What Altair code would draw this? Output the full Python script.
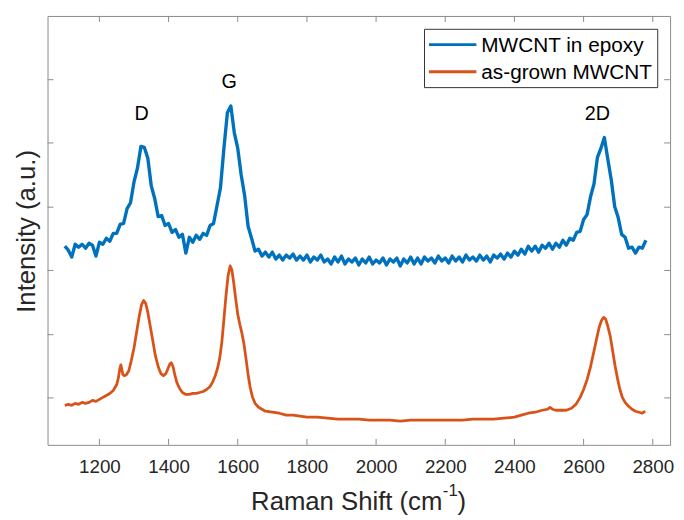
import altair as alt
import pandas as pd

# ---------------- data ----------------
# Raman shift grid of the "MWCNT in epoxy" spectrum, cm^-1 (sampled every 10)
epoxy_shift = list(range(1100, 2790, 10))
epoxy_int = [
    201, 197, 190, 203, 200, 203, 199, 204, 202, 191,
    205, 203, 209, 206, 214, 214, 223, 224, 239, 245,
    266, 280, 302, 301, 290, 262, 249, 231, 232, 222,
    224, 215, 218, 210, 213, 194, 210, 205, 212, 208,
    214, 212, 222, 224, 242, 260, 300, 336, 343, 316,
    300, 273, 252, 221, 209, 196, 198, 191, 195, 190,
    195, 188, 192, 187, 192, 189, 193, 187, 191, 187,
    192, 185, 190, 187, 192, 185, 188, 183, 190, 185,
    191, 183, 188, 185, 189, 182, 188, 184, 190, 183,
    187, 184, 189, 182, 188, 185, 189, 181, 188, 184,
    190, 183, 189, 183, 190, 186, 189, 184, 191, 186,
    189, 184, 191, 186, 190, 185, 192, 187, 190, 186,
    192, 187, 191, 185, 192, 189, 193, 188, 194, 190,
    196, 192, 198, 193, 201, 196, 201, 195, 202, 199,
    204, 198, 204, 200, 207, 202, 209, 207, 215, 216,
    228, 233, 251, 264, 291, 300, 311, 289, 268, 241,
    230, 213, 210, 199, 200, 194, 200, 199, 207,
]

grown_shift = [
    1100, 1110, 1120, 1130, 1140, 1150, 1160, 1170, 1180, 1190,
    1200, 1210, 1220, 1230, 1240, 1250, 1255, 1259, 1262, 1265,
    1268, 1272, 1278, 1285, 1292, 1300, 1308, 1315, 1322, 1328,
    1334, 1340, 1347, 1355, 1362, 1370, 1378, 1385, 1392, 1398,
    1404, 1408, 1413, 1418, 1424, 1432, 1440, 1450, 1460, 1470,
    1480, 1490, 1500, 1510, 1520, 1528, 1535, 1542, 1548, 1554,
    1560, 1566, 1572, 1578, 1583, 1588, 1594, 1600, 1606, 1612,
    1618, 1624, 1630, 1636, 1642, 1650, 1660, 1670, 1680, 1700,
    1720, 1740, 1760, 1780, 1800, 1830, 1860, 1890, 1920, 1950,
    1980, 2010, 2040, 2070, 2100, 2130, 2160, 2190, 2220, 2250,
    2280, 2310, 2340, 2370, 2400, 2420, 2440, 2460, 2480, 2495,
    2503, 2510, 2520, 2535, 2550, 2565, 2578, 2590, 2600, 2610,
    2620, 2630, 2638, 2645, 2652, 2658, 2664, 2670, 2677, 2684,
    2691, 2698, 2705, 2712, 2720, 2730, 2740, 2750, 2760, 2770,
    2778,
]
grown_int = [
    40, 41, 40, 42, 41, 43, 42, 43, 45, 44,
    46, 48, 50, 52, 55, 61, 68, 77, 81, 76,
    71, 70, 71, 75, 85, 98, 115, 130, 142, 146,
    143, 134, 120, 104, 90, 79, 72, 70, 72, 77,
    82, 83, 79, 71, 63, 57, 53, 51, 51, 52,
    52, 53, 54, 56, 59, 64, 70, 78, 88, 104,
    127, 151, 171, 181, 177, 165, 148, 132, 122, 113,
    102, 87, 71, 58, 49, 42, 38, 36, 34, 33,
    32, 30, 30, 29, 28, 28, 27, 26, 26, 26,
    25, 25, 25, 24, 25, 25, 25, 25, 25, 25,
    26, 26, 26, 27, 28, 30, 32, 33, 35, 36,
    38, 36, 35, 35, 35, 37, 41, 48, 56, 66,
    79, 95, 108, 119, 126, 129, 127, 120, 110, 95,
    80, 67, 56, 48, 43, 39, 36, 34, 33, 32,
    34,
]

series_names = ["MWCNT in epoxy", "as-grown MWCNT"]
series_colors = ["#0072BD", "#D95319"]

peak_labels = ["D", "G", "2D"]
peak_shift = [1322, 1575, 2640]
peak_int = [329, 361.5, 329]

x_ticks = [1200, 1400, 1600, 1800, 2000, 2200, 2400, 2600, 2800]
y_ticks = [47.5, 111.5, 176.5, 240.5, 305.5, 369.5]

# ---------------- styling ----------------
W, H = 630, 434
FONT = "Liberation Sans"
AXIS_GRAY = "#8a8a8a"
TEXT_DARK = "#262626"
TICK_LEN = 6

df = pd.concat([
    pd.DataFrame({"shift": epoxy_shift, "intensity": epoxy_int, "series": series_names[0]}),
    pd.DataFrame({"shift": grown_shift, "intensity": grown_int, "series": series_names[1]}),
])
peaks = pd.DataFrame({"label": peak_labels, "shift": peak_shift, "intensity": peak_int})
xt = pd.DataFrame({"t": x_ticks})
yt = pd.DataFrame({"t": y_ticks})
one = pd.DataFrame({"k": [0]})

xs = alt.Scale(domain=[1050, 2850], nice=False, zero=False)
ys = alt.Scale(domain=[0, 434], nice=False, zero=False)
x_axis = alt.Axis(values=x_ticks, title=None, grid=False, domain=False, ticks=True,
                  tickSize=0, labelFontSize=19, labelColor=TEXT_DARK, labelFont=FONT,
                  labelPadding=13, labelFlush=False, format="d")

lines = alt.Chart(df).mark_line(strokeJoin="round").encode(
    x=alt.X("shift:Q", scale=xs, axis=x_axis),
    y=alt.Y("intensity:Q", scale=ys, axis=None),
    color=alt.Color("series:N", scale=alt.Scale(domain=series_names, range=series_colors),
                    legend=None),
    strokeWidth=alt.StrokeWidth("series:N",
                                scale=alt.Scale(domain=series_names, range=[3.4, 2.8]),
                                legend=None),
)

labels = alt.Chart(peaks).mark_text(fontSize=20, font=FONT, color="black",
                                     align="center", baseline="alphabetic").encode(
    x=alt.X("shift:Q", scale=xs, axis=x_axis),
    y=alt.Y("intensity:Q", scale=ys, axis=None),
    text="label:N",
)

tick_bottom = alt.Chart(xt).mark_rule(color=AXIS_GRAY, strokeWidth=1).encode(
    x=alt.X("t:Q", scale=xs, axis=x_axis), y=alt.value(H), y2=alt.value(H - TICK_LEN))
tick_top = alt.Chart(xt).mark_rule(color=AXIS_GRAY, strokeWidth=1).encode(
    x=alt.X("t:Q", scale=xs, axis=x_axis), y=alt.value(0), y2=alt.value(TICK_LEN))
tick_left = alt.Chart(yt).mark_rule(color=AXIS_GRAY, strokeWidth=1).encode(
    y=alt.Y("t:Q", scale=ys, axis=None), x=alt.value(0), x2=alt.value(TICK_LEN))
tick_right = alt.Chart(yt).mark_rule(color=AXIS_GRAY, strokeWidth=1).encode(
    y=alt.Y("t:Q", scale=ys, axis=None), x=alt.value(W), x2=alt.value(W - TICK_LEN))

# axis titles (x title with a superscript)
xt_main = alt.Chart(one).mark_text(fontSize=26, font=FONT, color=TEXT_DARK, align="left",
                                    baseline="alphabetic").encode(
    x=alt.value(206), y=alt.value(500), text=alt.value("Raman Shift (cm"))
xt_sup = alt.Chart(one).mark_text(fontSize=17, font=FONT, color=TEXT_DARK, align="left",
                                   baseline="alphabetic").encode(
    x=alt.value(400), y=alt.value(486), text=alt.value("-1"))
xt_close = alt.Chart(one).mark_text(fontSize=26, font=FONT, color=TEXT_DARK, align="left",
                                     baseline="alphabetic").encode(
    x=alt.value(415), y=alt.value(500), text=alt.value(")"))
yt_title = alt.Chart(one).mark_text(fontSize=26, font=FONT, color=TEXT_DARK, align="center",
                                     baseline="alphabetic", angle=270).encode(
    x=alt.value(-12.5), y=alt.value(218), text=alt.value("Intensity (a.u.)"))

# legend box
leg_box = alt.Chart(one).mark_rect(fill="white", stroke="#333333", strokeWidth=1).encode(
    x=alt.value(381.5), x2=alt.value(617.5), y=alt.value(13.5), y2=alt.value(72.5))
leg_l1 = alt.Chart(one).mark_rule(color=series_colors[0], strokeWidth=3).encode(
    x=alt.value(386), x2=alt.value(434), y=alt.value(29))
leg_l2 = alt.Chart(one).mark_rule(color=series_colors[1], strokeWidth=3).encode(
    x=alt.value(386), x2=alt.value(434), y=alt.value(56.5))
leg_t1 = alt.Chart(one).mark_text(fontSize=21, font=FONT, color="black", align="left",
                                   baseline="middle").encode(
    x=alt.value(439), y=alt.value(30), text=alt.value(series_names[0]))
leg_t2 = alt.Chart(one).mark_text(fontSize=21, font=FONT, color="black", align="left",
                                   baseline="middle").encode(
    x=alt.value(439), y=alt.value(57.5), text=alt.value(series_names[1]))

chart = alt.layer(
    lines, labels, tick_bottom, tick_top, tick_left, tick_right,
    xt_main, xt_sup, xt_close, yt_title,
    leg_box, leg_l1, leg_l2, leg_t1, leg_t2,
).properties(
    width=W, height=H,
    padding={"left": 40, "top": 5, "right": 6, "bottom": 73},
    autosize=alt.AutoSizeParams(type="none"),
).configure_view(stroke=AXIS_GRAY, strokeWidth=1)

chart.save("out.html", embed_options={"renderer": "svg", "actions": False})
